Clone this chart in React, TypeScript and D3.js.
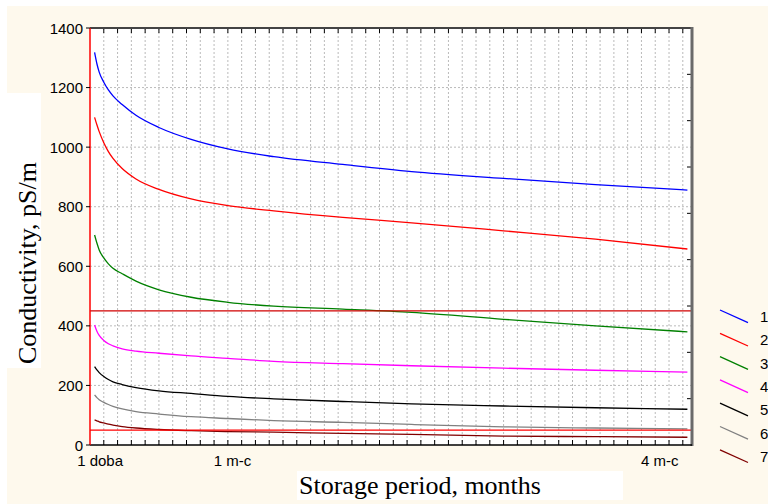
import React from "react";
import * as d3 from "d3";

const days = [1, 1.5, 2, 3, 4, 5, 7, 10, 15, 22, 30, 40, 55, 70, 90, 110, 130];
const series1 = [1318, 1280, 1252, 1218, 1192, 1172, 1143, 1107, 1066, 1026, 994, 968, 942, 918, 895, 874, 856];
const series2 = [1100, 1075, 1052, 1015, 985, 962, 928, 893, 858, 826, 804, 786, 764, 746, 719, 691, 658];
const series3 = [705, 678, 655, 628, 608, 593, 575, 550, 521, 496, 479, 466, 456, 445, 422, 400, 380];
const series4 = [403, 382, 368, 351, 340, 333, 323, 315, 308, 299, 291, 281, 273, 266, 258, 251, 245];
const series5 = [263, 252, 243, 230, 220, 212, 203, 193, 182, 173, 163, 155, 146, 138, 131, 125, 120];
const series6 = [168, 159, 152, 143, 136, 130, 121, 112, 104, 95, 89, 82, 76, 69, 61, 57, 54];
const series7 = [84, 81, 78, 74, 70, 67, 62, 57, 52, 48, 45, 43, 39, 36, 30, 28, 26];

const seriesNames = ["1", "2", "3", "4", "5", "6", "7"];
const seriesColors = ["#0000ff", "#ff0000", "#008000", "#ff00ff", "#000000", "#808080", "#800000"];
const allSeries = [series1, series2, series3, series4, series5, series6, series7];

const yTicks = [0, 200, 400, 600, 800, 1000, 1200, 1400];
const xLabels = ["1 doba", "1 m-c", "4 m-c"];
const xLabelPos = [2.2, 31, 124];
const refLines = [450, 50];
const refColors = ["#d00000", "#ff0000"];

const W = 768, H = 504;
const L = 90, R = 692, T = 28, B = 445;

export default function App() {
  const x = d3.scaleLinear().domain([0, 131]).range([L, R]);
  const y = d3.scaleLinear().domain([0, 1400]).range([B, T]);
  const yRight = d3.scaleLinear().domain([0, 9]).range([B, T]);
  const gridX = d3.range(3, 130, 3);
  const rightTicks = d3.range(1, 9);
  const line = d3
    .line<number>()
    .x((_, i) => x(days[i]))
    .y((v) => y(v))
    .curve(d3.curveMonotoneX);
  const sans = "Liberation Sans, Arial, sans-serif";
  const serif = "Liberation Serif, Times New Roman, serif";

  return (
    <svg width={W} height={H} style={{ position: "absolute", left: 0, top: 0, background: "#fff" }}>
      <rect x={7} y={6} width={W - 7} height={H - 6} fill="#fef9ed" />
      <rect x={0} y={93} width={41} height={275} fill="#ffffff" />
      <rect x={297} y={471} width={326} height={29} fill="#ffffff" />
      <rect x={L} y={T} width={R - L} height={B - T} fill="#ffffff" />

      {gridX.map((d) => (
        <line key={"gx" + d} x1={x(d)} x2={x(d)} y1={T} y2={B} stroke="#bababa" strokeWidth={1} strokeDasharray="2,2" />
      ))}
      {yTicks.slice(1, -1).map((v) => (
        <line key={"gy" + v} x1={L} x2={R} y1={y(v)} y2={y(v)} stroke="#bababa" strokeWidth={1} strokeDasharray="2,2" />
      ))}

      {gridX.map((d) => (
        <g key={"tk" + d}>
          <line x1={x(d)} x2={x(d)} y1={B} y2={B - 5} stroke="#000" strokeWidth={1} />
          <line x1={x(d)} x2={x(d)} y1={T} y2={T + 5} stroke="#000" strokeWidth={1} />
        </g>
      ))}
      {rightTicks.map((t) => (
        <line key={"rt" + t} x1={R} x2={R - 5} y1={yRight(t)} y2={yRight(t)} stroke="#000" strokeWidth={1} />
      ))}

      {allSeries.map((s, i) => (
        <path key={"s" + i} d={line(s) || ""} fill="none" stroke={seriesColors[i]} strokeWidth={1.3} />
      ))}

      {refLines.map((v, i) => (
        <line key={"ref" + v} x1={L} x2={R} y1={y(v)} y2={y(v)} stroke={refColors[i]} strokeWidth={1.3} />
      ))}

      <line x1={L} x2={R + 1} y1={T} y2={T} stroke="#444" strokeWidth={2} />
      <line x1={R} x2={R} y1={T - 1} y2={B + 1} stroke="#6a6a6a" strokeWidth={3} />
      <line x1={L} x2={R} y1={B} y2={B} stroke="#000" strokeWidth={1.5} />
      <line x1={L} x2={L} y1={T} y2={B} stroke="#ff0000" strokeWidth={1.5} />

      {yTicks.map((v) => (
        <g key={"yt" + v}>
          <line x1={L - 4} x2={L} y1={y(v)} y2={y(v)} stroke="#000" strokeWidth={1} />
          <text x={L - 7} y={y(v)} textAnchor="end" dominantBaseline="central" fontFamily={sans} fontSize={15} fill="#000">
            {v}
          </text>
        </g>
      ))}

      {xLabels.map((lab, i) => (
        <text key={"xl" + i} x={x(xLabelPos[i])} y={466} textAnchor="middle" fontFamily={sans} fontSize={15} fill="#000">
          {lab}
        </text>
      ))}

      <text transform="translate(36,263) rotate(-90)" textAnchor="middle" fontFamily={serif} fontSize={26} fill="#000">
        Conductivity, pS/m
      </text>
      <text x={420} y={494} textAnchor="middle" fontFamily={serif} fontSize={26} fill="#000">
        Storage period, months
      </text>

      {seriesNames.map((n, i) => {
        const y0 = 310 + 23.3 * i;
        return (
          <g key={"lg" + i}>
            <line x1={720} y1={y0} x2={748} y2={y0 + 12.7} stroke={seriesColors[i]} strokeWidth={1.3} />
            <text x={760} y={y0 + 6.5} dominantBaseline="central" fontFamily={sans} fontSize={15} fill="#000">
              {n}
            </text>
          </g>
        );
      })}
    </svg>
  );
}
